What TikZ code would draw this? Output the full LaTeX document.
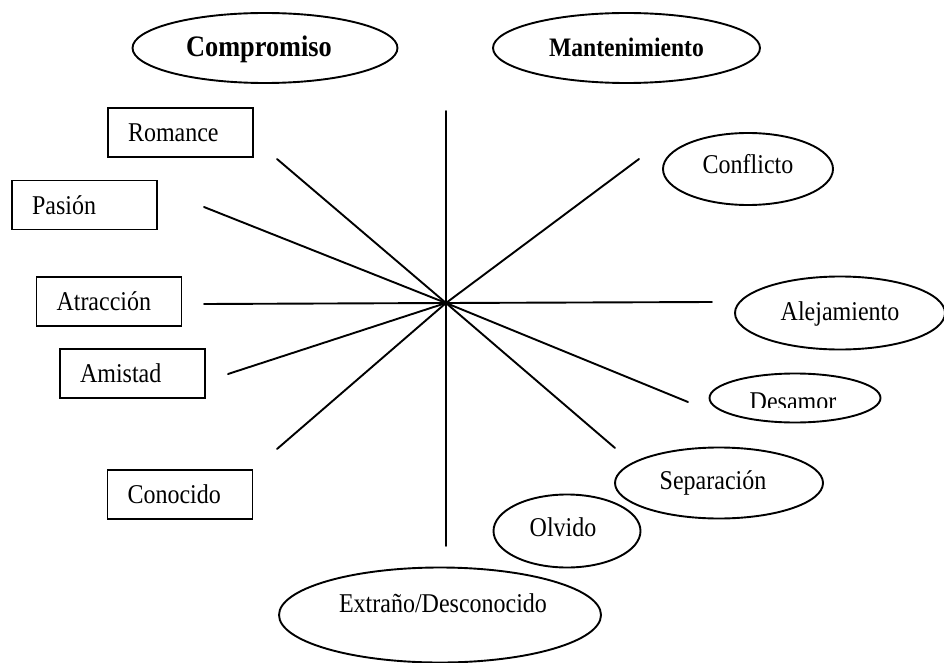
\documentclass[tikz,border=0pt]{standalone}
\usepackage{fontspec}
\usepackage{graphicx}
\setmainfont{Liberation Serif}
\usetikzlibrary{shapes.geometric}
\newcommand{\tallt}[1]{\scalebox{1}[1.13]{#1}}
\begin{document}
\begin{tikzpicture}[x=1pt,y=-1pt,
  ln/.style={line width=1.9pt, line cap=round},
  oval/.style={ellipse, draw, line width=1.9pt, inner sep=0pt,
    text height=18pt, text depth=0pt, font=\fontsize{24}{28}\selectfont},
  boxnode/.style={rectangle, draw, line width=1.9pt, inner xsep=20pt, inner ysep=0pt,
    text width=105pt, align=left, minimum height=49pt,
    text height=18pt, text depth=0pt, font=\fontsize{24}{28}\selectfont}]
\useasboundingbox (0,0) rectangle (944,663);

% top ellipses
\node[oval, minimum width=265pt, minimum height=70pt,
  font=\fontsize{26.3}{30}\selectfont\bfseries] (comp) at (265,48) {\kern-12pt\tallt{Compromiso}};
\node[oval, minimum width=267pt, minimum height=70pt,
  font=\fontsize{23.6}{28}\selectfont\bfseries] (mant) at (626.5,48) {\tallt{Mantenimiento}};

% left boxes
\node[boxnode] (rom) at (180.5,132.5) {\tallt{Romance}};
\node[boxnode] (pas) at (84.5,205) {\tallt{Pasión}};
\node[boxnode] (atr) at (109,301.5) {\tallt{Atracción}};
\node[boxnode] (ami) at (132.5,373.5) {\tallt{Amistad}};
\node[boxnode] (con) at (180,494.5) {\tallt{Conocido}};

% right ellipses
\node[oval, minimum width=170pt, minimum height=72pt] (cnf) at (748,169) {\raisebox{4pt}[\height][\depth]{\tallt{Conflicto}}};
\node[oval, minimum width=210pt, minimum height=73pt] (ale) at (840,313) {\raisebox{2pt}[\height][\depth]{\tallt{Alejamiento}}};
\node[oval, minimum width=171pt, minimum height=49pt] (des) at (795,398) {};
\begin{scope}
  \clip (700,380) rectangle (890,407.5);
  \node[anchor=base, inner sep=0pt, font=\fontsize{24}{28}\selectfont] (destext) at (793,410) {\tallt{Desamor}};
\end{scope}
\node[oval, minimum width=208pt, minimum height=71pt] (sep) at (719,483) {\raisebox{3pt}[\height][\depth]{\kern-12pt\tallt{Separación}}};
\node[oval, minimum width=147pt, minimum height=73pt] (olv) at (567,531) {\raisebox{4pt}[\height][\depth]{\kern-8pt\tallt{Olvido}}};
\node[oval, minimum width=322pt, minimum height=95pt] (ext) at (440,615) {\raisebox{12pt}[\height][\depth]{\tallt{Extraño/Desconocido}\kern-6pt}};

% connector ends
\coordinate (c) at (446,303);
\coordinate (vt) at (446,111);
\coordinate (vb) at (446,546);
\coordinate (rome) at (277,159);
\coordinate (sepe) at (615,448);
\coordinate (pase) at (204,207);
\coordinate (dese) at (688,402);
\coordinate (atre) at (204,304);
\coordinate (alee) at (712,302);
\coordinate (amie) at (228,374);
\coordinate (cone) at (277,449);
\coordinate (cnfe) at (639,159);

\draw[ln] (vt) -- (vb);
\draw[ln] (rome) -- (c) -- (sepe);
\draw[ln] (pase) -- (c) -- (dese);
\draw[ln] (atre) -- (c) -- (alee);
\draw[ln] (amie) -- (c);
\draw[ln] (cone) -- (c);
\draw[ln] (cnfe) -- (c);
\end{tikzpicture}
\end{document}
